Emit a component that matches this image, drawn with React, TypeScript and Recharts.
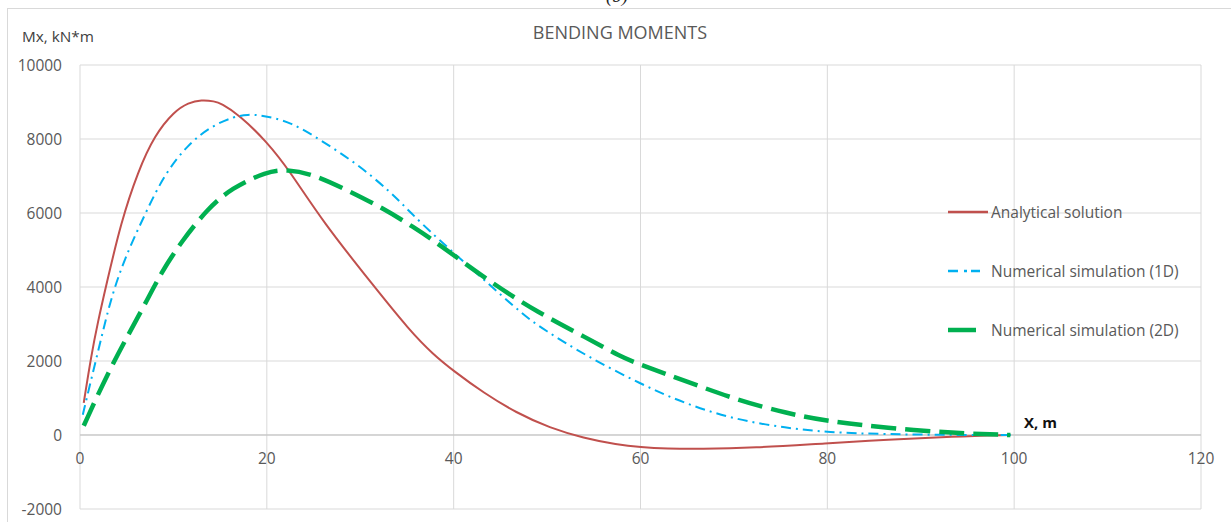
import React from "react";
import { LineChart, Line, XAxis, YAxis, CartesianGrid, ReferenceLine } from "recharts";

// distance along the beam, m, and bending moment, kN*m
const analyticalX = [0.4, 1.2, 1.9, 2.8, 4.4, 6.2, 8.0, 10.1, 11.6, 13.0, 14.4, 15.1, 17.0, 20.0, 22.5, 26.0, 31.4, 35.3, 37.8, 40.0, 43.2, 46.7, 50.3, 53.9, 57.5, 60.0, 62.8, 66.4, 72, 80, 86.4, 93.5, 99.6];
const analyticalM = [870, 2140, 3040, 4040, 5760, 7120, 8110, 8750, 8980, 9060, 9020, 8960, 8660, 7930, 7120, 5760, 4040, 2820, 2180, 1730, 1140, 600, 190, -80, -260, -330, -370, -380, -350, -220, -130, -40, 0];

const sim1dX = [0.3, 1.2, 2.25, 3.3, 4.75, 6.9, 9.0, 11.5, 14.0, 16.5, 18.0, 19.25, 22.5, 26.0, 29.6, 33.2, 35.3, 38.3, 42.8, 47.6, 49.6, 54.2, 60, 65, 70.3, 75.6, 80, 86.4, 93.5, 100];
const sim1dM = [550, 1500, 2590, 3680, 4760, 5940, 7030, 7840, 8340, 8610, 8660, 8650, 8480, 7930, 7340, 6580, 6030, 5300, 4300, 3210, 2860, 2135, 1380, 820, 410, 190, 70, 20, 0, 0];

const sim2dX = [0.4, 3.3, 6.8, 8.7, 10.9, 13.6, 16.25, 20, 22.1, 25.0, 28.9, 32.5, 35.7, 38.3, 43.7, 49.0, 54.3, 57.8, 60, 64.9, 70.3, 75.6, 80, 86.4, 93.5, 99.6];
const sim2dM = [250, 1860, 3450, 4400, 5240, 6100, 6680, 7120, 7180, 7050, 6580, 6120, 5620, 5180, 4170, 3310, 2620, 2120, 1900, 1450, 950, 590, 370, 190, 50, 0];

const xTicks = [0, 20, 40, 60, 80, 100, 120];
const yTicks = [-2000, 0, 2000, 4000, 6000, 8000, 10000];

const toPoints = (xs: number[], ms: number[]) => xs.map((x, i) => ({ x, m: ms[i] }));

const series = [
  { name: "Analytical solution", data: toPoints(analyticalX, analyticalM), color: "#C0504D", width: 2, dash: undefined as string | undefined, legendDash: undefined as string | undefined, legendWidth: 2.5, legendLen: 40 },
  { name: "Numerical simulation (1D)", data: toPoints(sim1dX, sim1dM), color: "#00B0F0", width: 2, dash: "10 5 2 5", legendDash: "10 6 3 4", legendWidth: 2.5, legendLen: 32 },
  { name: "Numerical simulation (2D)", data: toPoints(sim2dX, sim2dM), color: "#00B050", width: 4.5, dash: "25 9", legendDash: undefined, legendWidth: 4.5, legendLen: 28 },
];

const W = 1231;
const H = 522;
const margin = { top: 65, right: 30, bottom: 0, left: 0 };
const xAxisH = 13;
const yMin = -2000;
const yMax = 10000;
const plotH = H - margin.top - margin.bottom - xAxisH;
// x tick labels sit under the zero line, not under the plot bottom
const zeroShift = (plotH * (0 - yMin)) / (yMax - yMin);

const font = "'Open Sans', sans-serif";
const grey = "#595959";

const XTick = (props: any) => {
  const { x, y, payload } = props;
  return (
    <text x={x} y={y - zeroShift + 23} textAnchor="middle" dominantBaseline="central" fontFamily={font} fontSize={15.5} fill={grey}>
      {payload.value}
    </text>
  );
};

export default function App() {
  return (
    <div style={{ position: "absolute", left: 0, top: 0, width: W, height: H, overflow: "hidden", background: "#fff" }}>
      <div style={{ position: "absolute", left: 7, top: 8, width: W, height: H, borderLeft: "1.5px solid #d9d9d9", borderTop: "1.5px solid #d9d9d9" }} />
      <div style={{ position: "absolute", left: 606, top: -15, fontFamily: "'Liberation Serif', serif", fontStyle: "italic", fontSize: 19, color: "#222" }}>(b)</div>
      <div style={{ position: "absolute", left: 0, width: 1240, top: 20, textAlign: "center", fontFamily: font, fontSize: 18, color: grey }}>
        BENDING MOMENTS
      </div>
      <div style={{ position: "absolute", left: 22, top: 26, fontFamily: font, fontSize: 15.3, color: "#404040" }}>Mx, kN*m</div>
      <div style={{ position: "absolute", left: 1024, top: 412, fontFamily: font, fontSize: 15, fontWeight: 700, color: "#111" }}>X, m</div>

      <LineChart width={W} height={H} margin={margin} style={{ position: "absolute", left: 0, top: 0 }}>
        <CartesianGrid stroke="#d9d9d9" strokeWidth={1} />
        <XAxis
          type="number"
          dataKey="x"
          domain={[0, 120]}
          ticks={xTicks}
          height={xAxisH}
          axisLine={false}
          tickLine={false}
          tickSize={0}
          tickMargin={0}
          tick={<XTick />}
          allowDuplicatedCategory={false}
        />
        <YAxis
          type="number"
          domain={[yMin, yMax]}
          ticks={yTicks}
          width={80}
          axisLine={false}
          tickLine={false}
          tickSize={0}
          tickMargin={18}
          tick={{ fontFamily: font, fontSize: 15.5, fill: grey }}
        />
        <ReferenceLine y={0} stroke="#bfbfbf" strokeWidth={1} />
        {series.map((s) => (
          <Line
            key={s.name}
            data={s.data}
            dataKey="m"
            name={s.name}
            type="basis"
            stroke={s.color}
            strokeWidth={s.width}
            strokeDasharray={s.dash}
            dot={false}
            activeDot={false}
            isAnimationActive={false}
          />
        ))}
      </LineChart>

      <div style={{ position: "absolute", left: 948, top: 200 }}>
        {series.map((s, i) => (
          <div key={s.name} style={{ display: "flex", alignItems: "center", height: 24, marginBottom: i < series.length - 1 ? 35 : 0 }}>
            <svg width={43} height={10} style={{ display: "block" }}>
              <line x1={0} y1={5} x2={s.legendLen} y2={5} stroke={s.color} strokeWidth={s.legendWidth} strokeDasharray={s.legendDash} />
            </svg>
            <span style={{ fontFamily: font, fontSize: 15.5, color: grey, whiteSpace: "nowrap" }}>{s.name}</span>
          </div>
        ))}
      </div>
    </div>
  );
}
